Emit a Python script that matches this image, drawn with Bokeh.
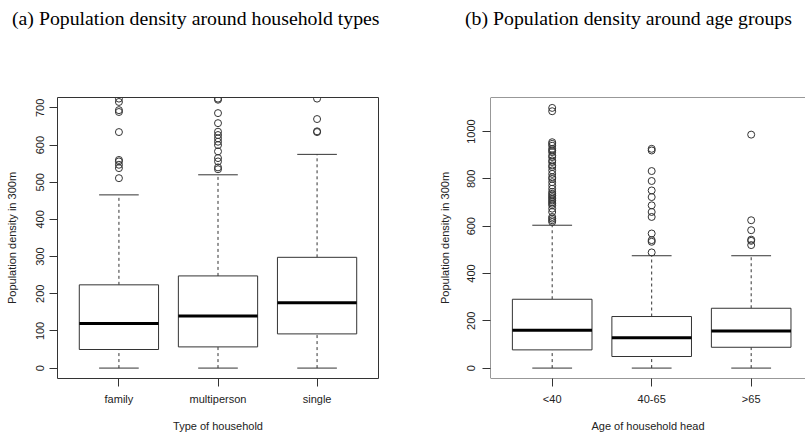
from bokeh.plotting import figure
from bokeh.models import Range1d, FixedTicker, Span, Div
from bokeh.layouts import row, column
from bokeh.embed import file_html
from bokeh.resources import INLINE

# ---------------- data ----------------
hh_types = ["family", "multiperson", "single"]
hh_q1 = [50, 57, 92]
hh_med = [120, 140, 176]
hh_q3 = [224, 248, 298]
hh_lo = [0, 0, 0]
hh_hi = [466, 520, 575]
hh_out = [
    [511, 538, 547, 556, 560, 635, 689, 694, 716, 725],
    [535, 540, 556, 565, 583, 600, 609, 618, 627, 636, 659, 686, 722, 725],
    [635, 637, 670, 725],
]

age_groups = ["<40", "40-65", ">65"]
age_q1 = [77, 49, 88]
age_med = [160, 128, 157]
age_q3 = [291, 218, 253]
age_lo = [0, 0, 0]
age_hi = [604, 475, 475]
age_out = [
    [618, 625, 632, 639, 660, 674, 688, 695, 702, 709, 716, 723, 730, 737, 745,
     758, 772, 786, 800, 807, 821, 836, 850, 857, 871, 878, 892, 899, 913, 920,
     927, 940, 948, 955, 1086, 1100],
    [489, 534, 541, 569, 639, 660, 688, 723, 751, 791, 833, 920, 927],
    [520, 538, 543, 583, 625, 987],
]

hh_yticks = [0, 100, 200, 300, 400, 500, 600, 700]
age_yticks = [0, 200, 400, 600, 800, 1000]

LINE = "#333333"
FONT = "Liberation Sans"


def make_panel(cats, q1, med, q3, lo, hi, outs, yr, yticks, xr, xlabel,
               width, mb_left, mb_right, ylab_s1, ylab_s2, full_frame):
    p = figure(width=width, height=400, output_backend="svg",
               toolbar_location=None, x_range=Range1d(*xr),
               y_range=Range1d(*yr), min_border_left=mb_left,
               min_border_right=mb_right, min_border_top=61,
               min_border_bottom=58)
    p.grid.visible = False
    p.background_fill_color = "white"
    p.border_fill_color = "white"
    if full_frame:
        p.outline_line_color = LINE
        p.outline_line_width = 1
        p.outline_line_alpha = 1
    else:
        p.outline_line_color = None
        for loc, dim in ((yr[1], "width"), (yr[0], "width"), (xr[0], "height")):
            p.add_layout(Span(location=loc, dimension=dim,
                              line_color=LINE, line_width=1))

    xs = [i + 1 for i in range(len(cats))]
    hw = 0.4
    sw = 0.2
    p.segment(x0=xs, y0=q3, x1=xs, y1=hi, line_color=LINE, line_width=1,
              line_dash="3 3")
    p.segment(x0=xs, y0=lo, x1=xs, y1=q1, line_color=LINE, line_width=1,
              line_dash="3 3")
    p.segment(x0=[x - sw for x in xs], y0=hi, x1=[x + sw for x in xs], y1=hi,
              line_color=LINE, line_width=1)
    p.segment(x0=[x - sw for x in xs], y0=lo, x1=[x + sw for x in xs], y1=lo,
              line_color=LINE, line_width=1)
    p.quad(left=[x - hw for x in xs], right=[x + hw for x in xs],
           bottom=q1, top=q3, fill_color="white", line_color=LINE,
           line_width=1)
    p.segment(x0=[x - hw for x in xs], y0=med, x1=[x + hw for x in xs],
              y1=med, line_color="black", line_width=3)
    ox, oy = [], []
    for x, vals in zip(xs, outs):
        ox += [x] * len(vals)
        oy += vals
    p.scatter(x=ox, y=oy, marker="circle", size=7, fill_color=None,
              line_color=LINE, line_width=1)

    p.xaxis.ticker = FixedTicker(ticks=xs)
    p.xaxis.major_label_overrides = {x: c for x, c in zip(xs, cats)}
    p.yaxis.ticker = FixedTicker(ticks=yticks)
    for ax in (p.xaxis[0], p.yaxis[0]):
        ax.axis_line_color = None
        ax.major_tick_line_color = LINE
        ax.major_tick_out = 8
        ax.major_tick_in = 0
        ax.minor_tick_line_color = None
        ax.major_label_text_font = FONT
        ax.major_label_text_font_size = "11px"
        ax.major_label_text_color = "#222222"
        ax.major_label_text_line_height = 1.0
        ax.axis_label_text_font = FONT
        ax.axis_label_text_font_size = "11px"
        ax.axis_label_text_font_style = "normal"
        ax.axis_label_text_color = "#222222"
        ax.axis_label_text_line_height = 1.0
    p.xaxis.axis_label = xlabel
    p.xaxis.major_label_standoff = 6
    p.xaxis.axis_label_standoff = 12
    p.yaxis.axis_label = "Population density in 300m"
    p.yaxis.major_label_orientation = "vertical"
    p.yaxis.major_label_standoff = ylab_s1
    p.yaxis.axis_label_standoff = ylab_s2
    return p


p1 = make_panel(hh_types, hh_q1, hh_med, hh_q3, hh_lo, hh_hi, hh_out,
                (-28, 728), hh_yticks, (0.38, 3.62), "Type of household",
                433, 57, 55, 5, 16, True)
p2 = make_panel(age_groups, age_q1, age_med, age_q3, age_lo, age_hi, age_out,
                (-44, 1144), age_yticks, (0.38, 3.546),
                "Age of household head", 372, 57, 0, 7, 14, False)

title_style = {"font-family": "Liberation Serif", "font-size": "19.8px",
               "line-height": "36px", "color": "black", "white-space": "nowrap"}
t1 = Div(text="(a) Population density around household types",
         width=433, height=36, margin=(0, 0, 0, 0),
         styles=dict(title_style, **{"text-indent": "12px"}))
t2 = Div(text="(b) Population density around age groups",
         width=372, height=36, margin=(0, 0, 0, 0),
         styles=dict(title_style, **{"text-indent": "32px"}))

layout = column(row(t1, t2), row(p1, p2))
open("out.html", "w").write(file_html(layout, INLINE))
